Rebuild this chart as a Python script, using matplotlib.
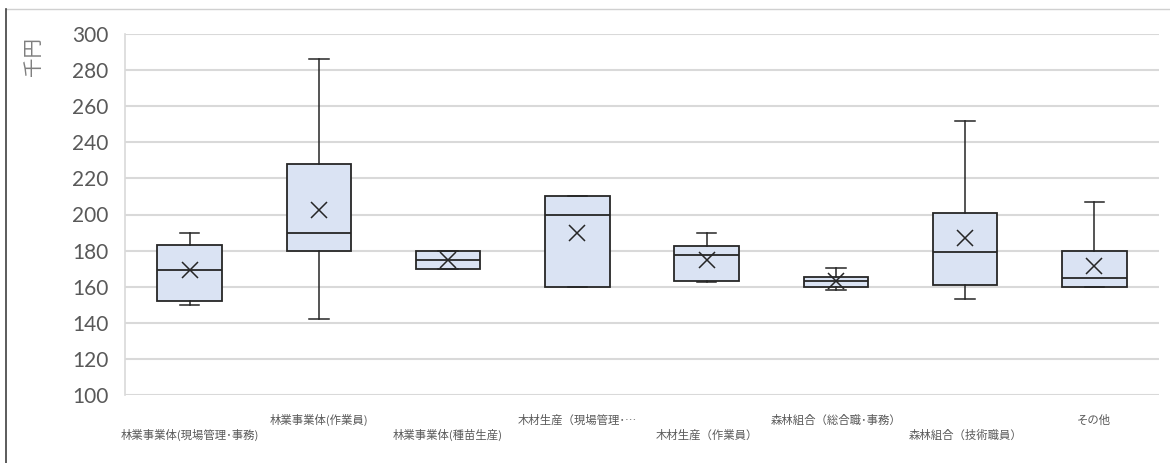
import matplotlib
matplotlib.use("Agg")
import matplotlib.pyplot as plt
from matplotlib.lines import Line2D

plt.rcParams['font.family'] = ['Noto Sans CJK JP', 'DejaVu Sans']

# monthly pay by job type (thousand yen)
categories = ['林業事業体(現場管理･事務)', '林業事業体(作業員)', '林業事業体(種苗生産)',
              '木材生産（現場管理･…', '木材生産（作業員）', '森林組合（総合職･事務）',
              '森林組合（技術職員）', 'その他']
whislo = [150, 142, 170, 160, 162.5, 158, 153, 160]
q1 = [152, 180, 170, 160, 163, 160, 161, 160]
med = [169.5, 190, 175, 200, 177.5, 163, 179.5, 165]
q3 = [183, 228, 180, 210, 182.5, 165.5, 201, 180]
whishi = [190, 286, 180, 210, 190, 170.5, 252, 207]
mean = [169, 202.5, 175, 190, 175, 163, 187, 171.5]

stats = []
for i in range(len(categories)):
    stats.append({'label': categories[i], 'whislo': whislo[i], 'q1': q1[i],
                  'med': med[i], 'q3': q3[i], 'whishi': whishi[i], 'mean': mean[i]})

fig = plt.figure(figsize=(11.7, 4.63), dpi=100)
ax = fig.add_axes([125 / 1170, 1 - 395 / 463, 1034 / 1170, 361 / 463])

dark = '#262626'
ax.bxp(stats, positions=range(len(categories)), widths=0.5, capwidths=0.15,
       showmeans=True, showfliers=False, patch_artist=True,
       boxprops=dict(facecolor='#dae3f3', edgecolor=dark, linewidth=1.3),
       medianprops=dict(color=dark, linewidth=1.3),
       whiskerprops=dict(color=dark, linewidth=1.1),
       capprops=dict(color=dark, linewidth=1.1),
       meanprops=dict(marker='x', markersize=11, markeredgecolor=dark,
                      markeredgewidth=1.1))

ax.set_xlim(-0.5, len(categories) - 0.5)
ax.set_ylim(100, 300)
ax.set_yticks(range(100, 301, 20))
ax.yaxis.grid(True, color='#d9d9d9', linewidth=1.5)
ax.set_axisbelow(True)
for s in ['top', 'right', 'bottom']:
    ax.spines[s].set_visible(False)
ax.spines['left'].set_color('#d9d9d9')
ax.spines['left'].set_linewidth(1.2)
ax.tick_params(axis='y', length=0, pad=12, labelsize=15, labelcolor='#595959')
for t in ax.get_yticklabels():
    t.set_fontfamily(['Lato', 'DejaVu Sans'])
ax.set_xticks([])

# category names alternate between two rows
for i, name in enumerate(categories):
    y = -0.111 if i % 2 == 0 else -0.069
    ax.text(i, y, name, transform=ax.get_xaxis_transform(), ha='center', va='center',
            fontsize=8.2, color='#595959')

fig.text(34 / 1170, 1 - 57 / 463, '千円', rotation=90, ha='center', va='center',
         fontsize=14, color='#7f7f7f')

# chart frame
fig.add_artist(Line2D([5.5 / 1170, 1], [1 - 9 / 463, 1 - 9 / 463],
                      transform=fig.transFigure, color='#d0d0d0', linewidth=1))
fig.add_artist(Line2D([5.5 / 1170, 5.5 / 1170], [0, 1 - 9 / 463],
                      transform=fig.transFigure, color='#404040', linewidth=1.2))

fig.savefig('out.png', dpi=100)
